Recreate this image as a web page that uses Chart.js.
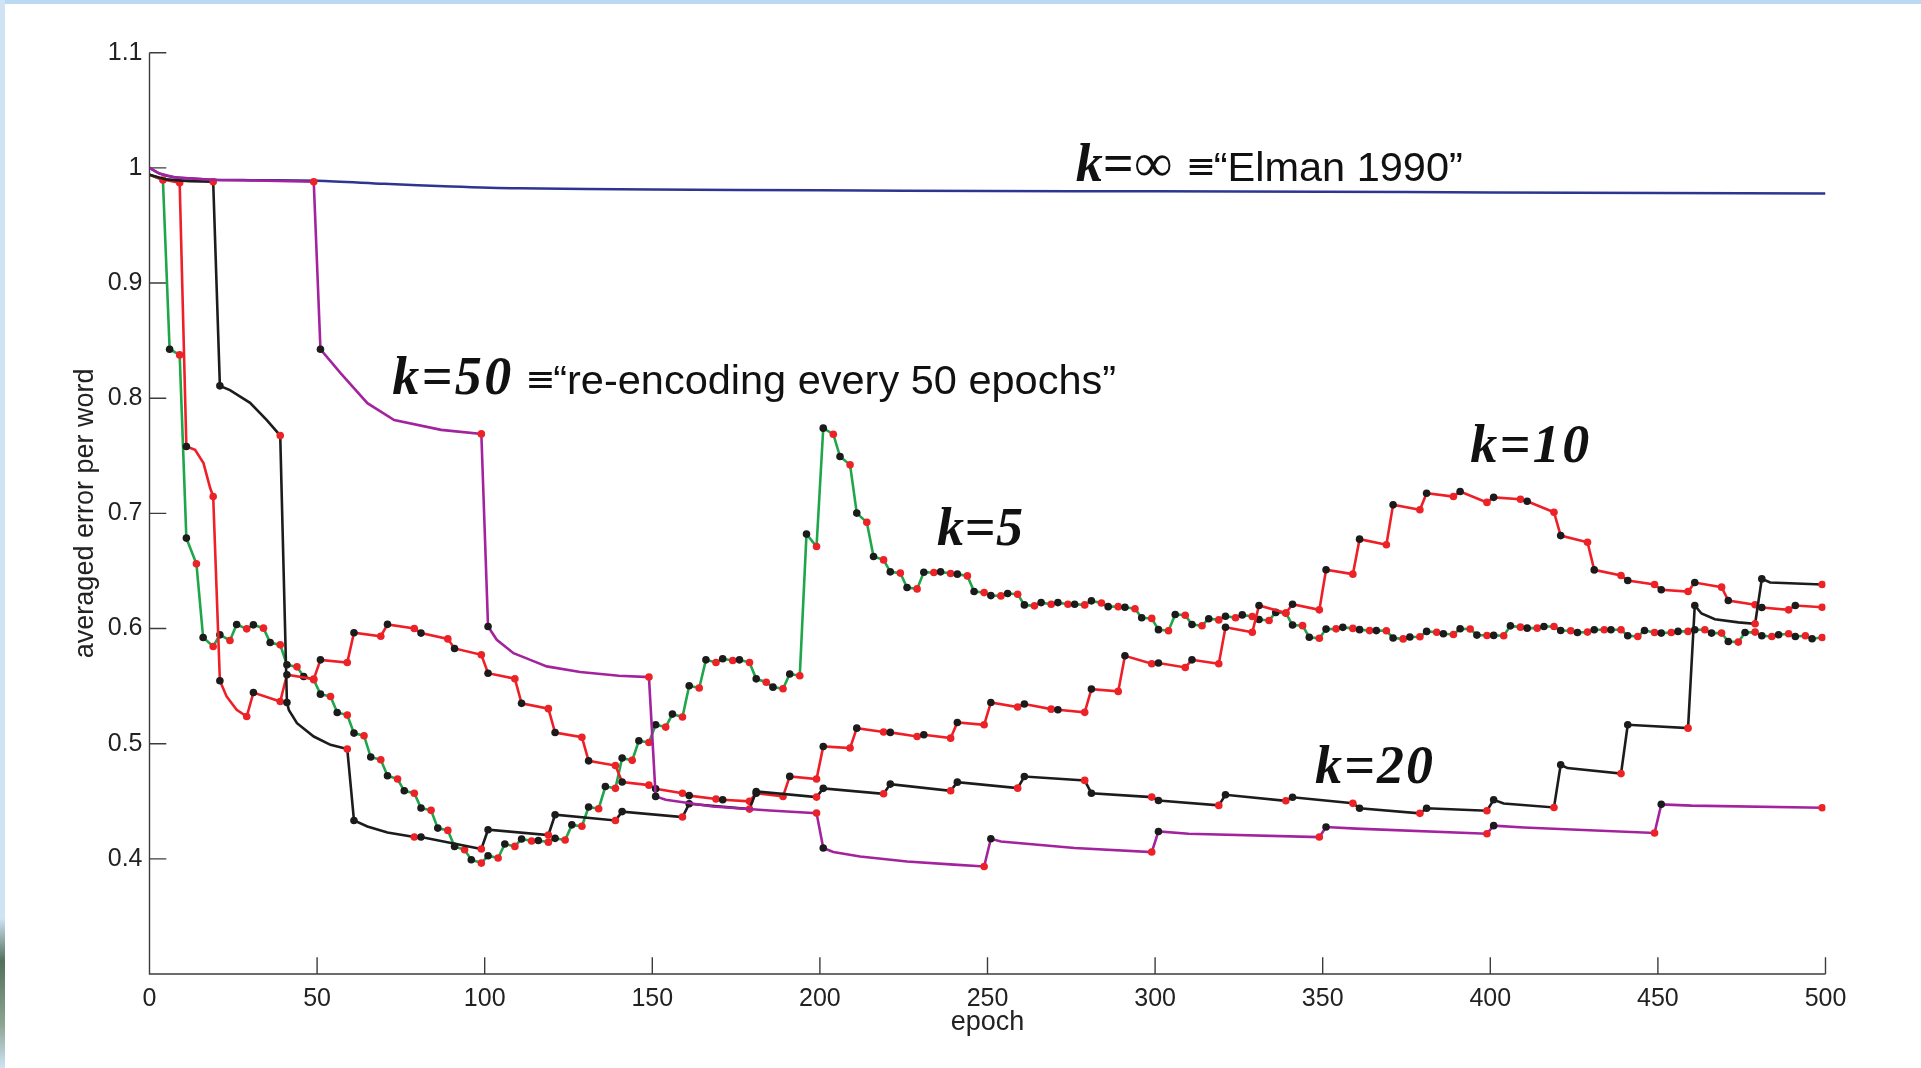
<!DOCTYPE html>
<html>
<head>
<meta charset="utf-8">
<title>Averaged error per word vs epoch</title>
<script src="https://cdn.jsdelivr.net/npm/chart.js@4.4.1/dist/chart.umd.min.js"></script>
<style>
  html, body { margin: 0; padding: 0; background: #ffffff; overflow: hidden; }
  #wrap { position: relative; width: 1921px; height: 1068px; }
  #chart { position: absolute; left: 0; top: 0; }
  .edge-top { position: absolute; left: 0; top: 0; width: 1921px; height: 4px; background: #bcd9f3; }
  .edge-left { position: absolute; left: 0; top: 0; width: 5px; height: 1068px;
    background: linear-gradient(#cfe3f5 0%, #cfe3f5 86%, #52705a 90%, #8ea594 96%, #cfe3f5 100%); }
</style>
</head>
<body>
<div id="wrap">
  <canvas id="chart" width="1921" height="1068"></canvas>
  <div class="edge-top"></div>
  <div class="edge-left"></div>
</div>
<script>
// ---- axes ----
const epochTicks = [0, 50, 100, 150, 200, 250, 300, 350, 400, 450, 500];
const errorTicks = [0.4, 0.5, 0.6, 0.7, 0.8, 0.9, 1, 1.1];

// ---- k = infinity (plain Elman network, never re-encoded) ----
const elmanEpochs = [0, 3, 7, 17, 30, 50, 70, 90, 110, 150, 200, 250, 300, 350, 400, 450, 500];
const elmanError  = [1.0, 0.995, 0.992, 0.990, 0.9893, 0.9888, 0.9862, 0.9838, 0.9822, 0.9812,
                     0.9805, 0.9800, 0.9796, 0.9792, 0.9787, 0.9782, 0.9778];

// ---- k = 5 : error just before each re-encoding (epochs 5..500) and just after (5..495) ----
const k5Start = 0.994;
const k5Before = [
  0.9895, 0.8376, 0.6562, 0.5844, 0.5896, 0.5997, 0.6003, 0.5858, 0.5667, 0.5555,
  0.5410, 0.5248, 0.5069, 0.4860, 0.4693, 0.4570, 0.4421, 0.4247, 0.4079, 0.3963,
  0.4007, 0.4108, 0.4155, 0.4145, 0.4164, 0.4283, 0.4435, 0.4612, 0.4855, 0.5010,
  0.5144, 0.5231, 0.5483, 0.5705, 0.5722, 0.5705, 0.5534, 0.5477, 0.5590, 0.6712,
  0.7687, 0.7421, 0.6922, 0.6596, 0.6481, 0.6344, 0.6487, 0.6478, 0.6457, 0.6312,
  0.6283, 0.6298, 0.6197, 0.6211, 0.6211, 0.6205, 0.6222, 0.6190, 0.6172, 0.6088,
  0.5981, 0.6115, 0.6024, 0.6075, 0.6094, 0.6104, 0.6070, 0.6134, 0.6025, 0.5915,
  0.5997, 0.6001, 0.5982, 0.5980, 0.5910, 0.5928, 0.5968, 0.5948, 0.5996, 0.5939,
  0.5937, 0.6012, 0.6003, 0.6017, 0.5980, 0.5969, 0.5989, 0.5989, 0.5931, 0.5966,
  0.5966, 0.5975, 0.5989, 0.5960, 0.5882, 0.5969, 0.5931, 0.5954, 0.5937, 0.5922
];
const k5After = [
  0.8425, 0.6785, 0.5922, 0.5945, 0.6035, 0.6032, 0.5878, 0.5685, 0.5583, 0.5430,
  0.5271, 0.5092, 0.4884, 0.4721, 0.4591, 0.4441, 0.4267, 0.4108, 0.3992, 0.4027,
  0.4129, 0.4172, 0.4159, 0.4178, 0.4295, 0.4450, 0.4628, 0.4875, 0.5025, 0.5164,
  0.5257, 0.5503, 0.5728, 0.5737, 0.5728, 0.5563, 0.5491, 0.5605, 0.6820, 0.7740,
  0.7493, 0.7002, 0.6625, 0.6492, 0.6356, 0.6489, 0.6492, 0.6472, 0.6321, 0.6286,
  0.6304, 0.6205, 0.6225, 0.6225, 0.6211, 0.6240, 0.6190, 0.6184, 0.6094, 0.5990,
  0.6122, 0.6035, 0.6085, 0.6107, 0.6118, 0.6078, 0.6140, 0.6030, 0.5924, 0.5995,
  0.6010, 0.5990, 0.5982, 0.5918, 0.5926, 0.5975, 0.5954, 0.5998, 0.5943, 0.5940,
  0.6023, 0.6003, 0.6017, 0.5983, 0.5966, 0.5989, 0.5989, 0.5937, 0.5983, 0.5960,
  0.5975, 0.5989, 0.5960, 0.5887, 0.5966, 0.5937, 0.5946, 0.5931, 0.5911
];

// ---- k = 10 ----
const k10Start = 0.994;
const k10Before = [
  0.9870, 0.7146, 0.5236, 0.5366, 0.5561, 0.5705, 0.5933, 0.6000, 0.5910, 0.5772,
  0.5564, 0.5304, 0.5056, 0.4810, 0.4640, 0.4570, 0.4519, 0.4499, 0.4542, 0.4693,
  0.4962, 0.5101, 0.5062, 0.5048, 0.5164, 0.5318, 0.5300, 0.5272, 0.5454, 0.5694,
  0.5662, 0.5694, 0.5968, 0.6134, 0.6162, 0.6472, 0.6727, 0.7031, 0.7146, 0.7095,
  0.7122, 0.7010, 0.6749, 0.6460, 0.6382, 0.6321, 0.6359, 0.6206, 0.6162, 0.6185
];
const k10After = [
  0.7580, 0.5546, 0.5444, 0.5598, 0.5728, 0.5963, 0.6036, 0.5960, 0.5827, 0.5612,
  0.5350, 0.5097, 0.4851, 0.4667, 0.4609, 0.4549, 0.4513, 0.4570, 0.4716, 0.4976,
  0.5135, 0.5098, 0.5077, 0.5184, 0.5358, 0.5344, 0.5295, 0.5474, 0.5763, 0.5700,
  0.5728, 0.6011, 0.6200, 0.6211, 0.6510, 0.6776, 0.7074, 0.7175, 0.7190, 0.7139,
  0.7105, 0.6807, 0.6509, 0.6417, 0.6336, 0.6399, 0.6243, 0.6183, 0.6200
];
// intermediate samples [epoch, error] where the curve bends between re-encodings
const k10Bends = [[4, 0.990], [13.6, 0.7551], [16.1, 0.7436], [18.1, 0.7220], [23, 0.5410], [26, 0.5294]];

// ---- k = 20 ----
const k20Start = 0.994;
const k20Before = [
  0.9880, 0.7675, 0.4953, 0.4189, 0.4085, 0.4207, 0.4333, 0.4363, 0.4432, 0.4536,
  0.4565, 0.4591, 0.4614, 0.4681, 0.4536, 0.4464, 0.4504, 0.4482, 0.4395, 0.4418,
  0.4446, 0.4740, 0.5135, 0.6041, 0.6382
];
const k20After = [
  0.8107, 0.5358, 0.4333, 0.4189, 0.4253, 0.4383, 0.4410, 0.4478, 0.4585, 0.4612,
  0.4649, 0.4666, 0.4715, 0.4570, 0.4507, 0.4556, 0.4535, 0.4439, 0.4439, 0.4513,
  0.4817, 0.5164, 0.6200, 0.6431
];
const k20Bends = [
  [5, 0.990], [12, 0.9885], [24, 0.807], [30, 0.796], [35, 0.781],
  [41.6, 0.529], [44, 0.5178], [49, 0.5062], [54, 0.499],
  [65, 0.4281], [71, 0.4229], [404, 0.448], [423, 0.4788],
  [463, 0.613], [467, 0.608], [474, 0.6053], [483.5, 0.6399]
];

// ---- k = 50 ----
const k50Start = 1.0;
const k50Before = [0.9880, 0.7690, 0.5578, 0.4397, 0.3934, 0.4059, 0.4189, 0.4218, 0.4225, 0.4443];
const k50After  = [0.8425, 0.6017, 0.4542, 0.4094, 0.4174, 0.4238, 0.4276, 0.4288, 0.4473];
const k50Bends = [
  [3, 0.995], [8, 0.9915], [20, 0.9895], [35, 0.9888],
  [57, 0.8217], [65, 0.7957], [73, 0.781], [87, 0.7725],
  [103.6, 0.5902], [108.6, 0.5786], [113.6, 0.5728], [118.5, 0.5671], [128.5, 0.5622], [140, 0.559],
  [154, 0.4513], [168, 0.4455], [185, 0.442],
  [204, 0.406], [212, 0.402], [226, 0.3977], [240, 0.395],
  [254, 0.415], [276, 0.4094], [310, 0.4218], [360, 0.4262], [410, 0.4272], [460, 0.4462]
];

// ---- styling ----
const FONT_SANS = '"Liberation Sans", Arial, Helvetica, sans-serif';
const FONT_SERIF = '"Liberation Serif", "Times New Roman", serif';
const DOT_RED = '#ec2227';
const DOT_BLACK = '#1b1b1b';
const AXIS_COLOR = '#3c3c3c';
const TICK_LEN = 16.8;
// the dots sit one epoch either side of the re-encoding epoch
const HALF_GAP = 1;

// Build one run: start value, then for every re-encoding epoch t = k, 2k, ...
// a red dot (error before re-encoding) and a black dot (error right after).
function runPoints(k, start, before, after, bends) {
  const pts = [{ x: 0, y: start }];
  const extra = bends || [];
  let b = 0;
  for (let i = 0; i < before.length; i++) {
    const t = k * (i + 1);
    while (b < extra.length && extra[b][0] < t - HALF_GAP) {
      pts.push({ x: extra[b][0], y: extra[b][1] });
      b++;
    }
    pts.push({ x: t - HALF_GAP, y: before[i], mark: 'before' });
    if (i < after.length) pts.push({ x: t + HALF_GAP, y: after[i], mark: 'after' });
  }
  return pts;
}

function runDataset(label, color, points) {
  return {
    label,
    data: points,
    borderColor: color,
    borderWidth: 2.6,
    tension: 0,
    fill: false,
    pointRadius: c => (c.raw && c.raw.mark ? 3.8 : 0),
    pointHoverRadius: 0,
    pointBorderWidth: 0,
    pointBackgroundColor: c => (c.raw && c.raw.mark === 'before' ? DOT_RED : DOT_BLACK),
    pointBorderColor: c => (c.raw && c.raw.mark === 'before' ? DOT_RED : DOT_BLACK)
  };
}

const elmanPoints = elmanEpochs.map((e, i) => ({ x: e, y: elmanError[i] }));

// labels written onto the plot, anchored in data coordinates
const runLabels = [
  { k: 'k=\u221E', epoch: 276.3, error: 0.9884, width: 96, note: '\u201CElman 1990\u201D' },
  { k: 'k=50', epoch: 72.4, error: 0.8033, width: 119, note: '\u201Cre-encoding every 50 epochs\u201D' },
  { k: 'k=10', epoch: 394.0, error: 0.7450, width: 119 },
  { k: 'k=5', epoch: 234.9, error: 0.6727, width: 86 },
  { k: 'k=20', epoch: 347.7, error: 0.4660, width: 118 }
];

function drawSpaced(ctx, text, x, y, width) {
  const chars = Array.from(text);
  const natural = chars.reduce((s, ch) => s + ctx.measureText(ch).width, 0);
  const gap = chars.length > 1 ? (width - natural) / (chars.length - 1) : 0;
  let cx = x;
  chars.forEach(ch => { ctx.fillText(ch, cx, y); cx += ctx.measureText(ch).width + gap; });
  return cx - gap;
}

const framePlugin = {
  id: 'frame',
  beforeDatasetsDraw(chart) {
    const { ctx, chartArea: a, scales } = chart;
    ctx.save();
    ctx.strokeStyle = AXIS_COLOR;
    ctx.lineWidth = 1.4;
    ctx.beginPath();
    ctx.moveTo(a.left, a.top);
    ctx.lineTo(a.left, a.bottom);
    ctx.lineTo(a.right, a.bottom);
    errorTicks.forEach(v => {
      const py = scales.y.getPixelForValue(v);
      ctx.moveTo(a.left, py);
      ctx.lineTo(a.left + TICK_LEN, py);
    });
    epochTicks.forEach(v => {
      const px = scales.x.getPixelForValue(v);
      ctx.moveTo(px, a.bottom);
      ctx.lineTo(px, a.bottom - TICK_LEN);
    });
    ctx.stroke();

    // axis titles
    ctx.fillStyle = '#222222';
    ctx.font = '27px ' + FONT_SANS;
    ctx.textAlign = 'center';
    ctx.textBaseline = 'middle';
    ctx.fillText('epoch', (a.left + a.right) / 2, 1023);
    ctx.translate(86, (a.top + a.bottom) / 2);
    ctx.rotate(-Math.PI / 2);
    ctx.fillText('averaged error per word', 0, 0);
    ctx.restore();
  },
  afterDatasetsDraw(chart) {
    const { ctx, scales } = chart;
    ctx.save();
    ctx.fillStyle = '#111111';
    ctx.textBaseline = 'alphabetic';
    ctx.textAlign = 'left';
    runLabels.forEach(l => {
      const x = scales.x.getPixelForValue(l.epoch);
      const y = scales.y.getPixelForValue(l.error);
      ctx.font = 'italic bold 54px ' + FONT_SERIF;
      const end = drawSpaced(ctx, l.k, x, y, l.width);
      if (l.note) {
        ctx.font = '36px "DejaVu Sans", ' + FONT_SANS;
        ctx.fillText('\u2261', end + 14, y - 3);
        ctx.font = '41.5px ' + FONT_SANS;
        ctx.fillText(l.note, end + 42, y);
      }
    });
    ctx.restore();
  }
};

new Chart(document.getElementById('chart'), {
  type: 'line',
  data: {
    datasets: [
      runDataset('k=50', '#a3239e', runPoints(50, k50Start, k50Before, k50After, k50Bends)),
      runDataset('k=20', '#1c1c1c', runPoints(20, k20Start, k20Before, k20After, k20Bends)),
      runDataset('k=10', '#ee1f26', runPoints(10, k10Start, k10Before, k10After, k10Bends)),
      runDataset('k=5', '#1fa64a', runPoints(5, k5Start, k5Before, k5After, [])),
      {
        label: 'k=\u221E',
        data: elmanPoints,
        borderColor: '#2d3590',
        borderWidth: 2.5,
        tension: 0.3,
        pointRadius: 0,
        pointHoverRadius: 0,
        fill: false
      }
    ]
  },
  options: {
    responsive: false,
    animation: false,
    devicePixelRatio: 1,
    events: [],
    layout: { padding: { left: 0, right: 95.5, top: 52.7, bottom: 0 } },
    plugins: { legend: { display: false }, tooltip: { enabled: false } },
    scales: {
      x: {
        type: 'linear',
        min: 0,
        max: 500,
        grid: { display: false, drawTicks: false },
        border: { display: false },
        afterBuildTicks: s => { s.ticks = epochTicks.map(v => ({ value: v })); },
        afterFit: s => { s.height = 94; },
        ticks: {
          autoSkip: false,
          maxRotation: 0,
          padding: 10,
          color: '#222222',
          font: { family: FONT_SANS, size: 25 },
          callback: v => String(v)
        }
      },
      y: {
        type: 'linear',
        min: 0.3,
        max: 1.1,
        grid: { display: false, drawTicks: false },
        border: { display: false },
        afterBuildTicks: s => { s.ticks = errorTicks.map(v => ({ value: v })); },
        afterFit: s => { s.width = 149.5; },
        ticks: {
          autoSkip: false,
          padding: 7,
          color: '#222222',
          font: { family: FONT_SANS, size: 25 },
          callback: v => String(Math.round(v * 10) / 10)
        }
      }
    }
  },
  plugins: [framePlugin]
});
</script>
</body>
</html>
